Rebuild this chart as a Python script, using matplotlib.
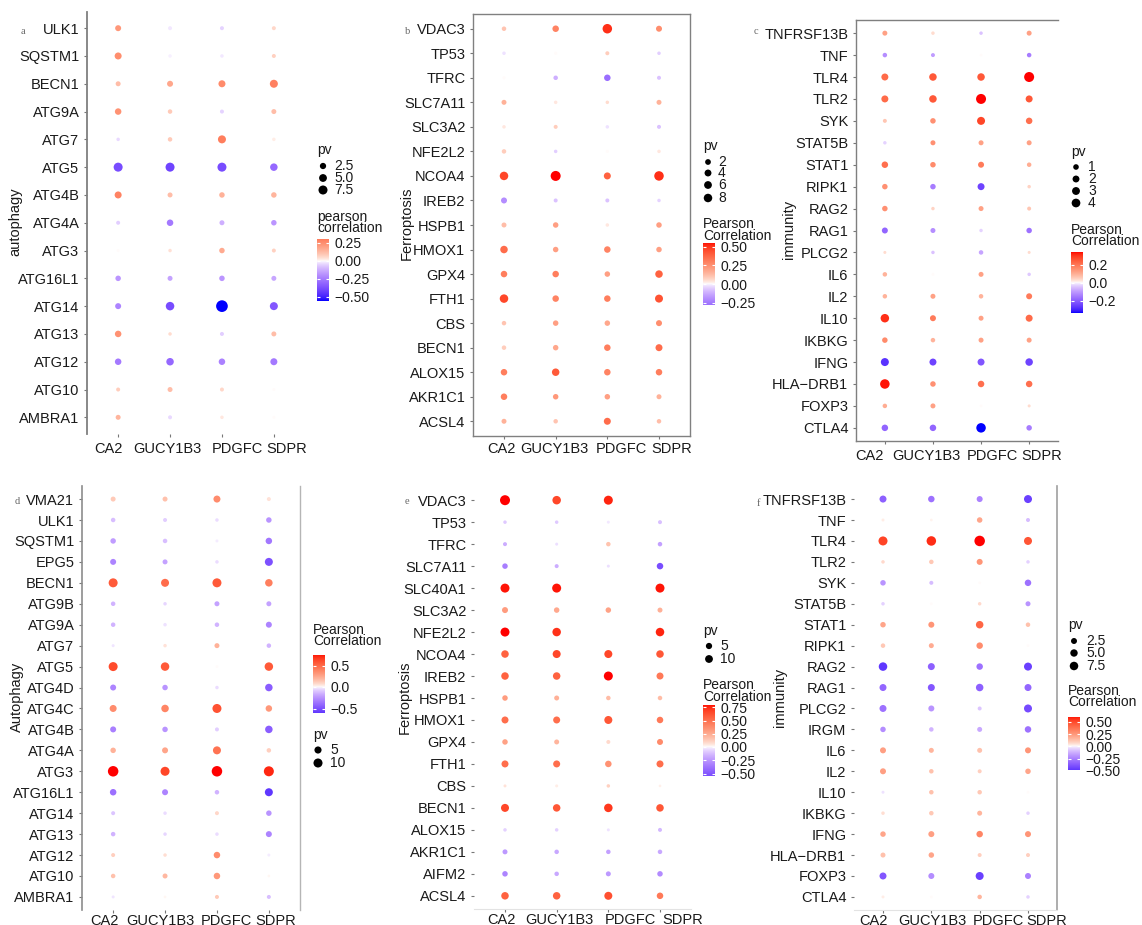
import numpy as np
import matplotlib
matplotlib.use('Agg')
import matplotlib.pyplot as plt
from matplotlib.colors import ListedColormap, Normalize
from matplotlib.transforms import ScaledTranslation

plt.rcParams['font.family'] = ['Liberation Sans', 'DejaVu Sans']

W, H = 1142, 925
nan = np.nan
cols = ['CA2', 'GUCY1B3', 'PDGFC', 'SDPR']

# ---------------- panel a : autophagy ----------------
a_rows = ['ULK1', 'SQSTM1', 'BECN1', 'ATG9A', 'ATG7', 'ATG5', 'ATG4B', 'ATG4A', 'ATG3',
          'ATG16L1', 'ATG14', 'ATG13', 'ATG12', 'ATG10', 'AMBRA1']
a_corr = [[0.22, -0.02, -0.05, 0.06], [0.25, -0.01, -0.02, 0.07], [0.12, 0.18, 0.26, 0.29],
          [0.24, 0.09, -0.05, 0.12], [-0.04, 0.09, 0.30, 0.02], [-0.38, -0.40, -0.38, -0.30],
          [0.28, 0.12, 0.15, 0.14], [-0.06, -0.25, -0.12, -0.18], [0.00, 0.04, 0.17, 0.07],
          [-0.18, -0.15, -0.18, -0.14], [-0.22, -0.38, -0.55, -0.35], [0.24, 0.05, -0.06, 0.12],
          [-0.25, -0.30, -0.23, -0.25], [0.08, 0.12, 0.06, 0.00], [0.14, -0.04, 0.03, 0.00]]
a_pv = [[2.17, 0.4, 0.4, 0.4], [3.6, 0.18, 0.18, 0.4], [1.1, 2.17, 3.6, 5.4],
        [2.84, 0.71, 0.4, 1.1], [0.18, 0.71, 5.4, 0.18], [7.5, 7.5, 7.5, 4.43],
        [3.6, 1.1, 1.6, 1.6], [0.4, 2.84, 1.1, 1.6], [0.04, 0.18, 1.6, 0.4],
        [1.6, 1.1, 1.6, 1.1], [2.17, 6.4, 15.0, 5.4], [2.84, 0.18, 0.4, 1.1],
        [2.84, 4.43, 2.84, 3.6], [0.4, 1.1, 0.4, 0.04], [1.1, 0.4, 0.18, 0.04]]

# ---------------- panel b : ferroptosis ----------------
b_rows = ['VDAC3', 'TP53', 'TFRC', 'SLC7A11', 'SLC3A2', 'NFE2L2', 'NCOA4', 'IREB2', 'HSPB1',
          'HMOX1', 'GPX4', 'FTH1', 'CBS', 'BECN1', 'ALOX15', 'AKR1C1', 'ACSL4']
b_corr = [[0.10, 0.28, 0.50, 0.25], [-0.03, 0.00, 0.08, -0.06], [0.00, -0.12, -0.28, -0.08],
          [0.15, 0.03, 0.05, 0.15], [0.03, 0.08, -0.03, -0.08], [0.08, -0.06, 0.00, 0.03],
          [0.45, 0.55, 0.38, 0.50], [-0.20, -0.08, -0.08, -0.05], [0.12, 0.20, 0.03, 0.20],
          [0.35, 0.20, 0.28, 0.20], [0.30, 0.30, 0.20, 0.38], [0.45, 0.28, 0.30, 0.42],
          [0.10, 0.20, 0.18, 0.25], [0.08, 0.18, 0.30, 0.35], [0.30, 0.40, 0.28, 0.30],
          [0.30, 0.22, 0.20, 0.15], [0.15, 0.10, 0.35, 0.12]]
b_pv = [[0.6, 3.25, 11.2, 2.4], [0.07, 0.01, 0.27, 0.07], [0.01, 0.6, 3.25, 0.27],
        [1.06, 0.07, 0.07, 1.06], [0.07, 0.27, 0.07, 0.27], [0.6, 0.07, 0.01, 0.07],
        [8.0, 13.0, 4.24, 11.2], [2.4, 0.27, 0.27, 0.07], [1.06, 1.66, 0.07, 1.66],
        [5.37, 1.66, 3.25, 1.66], [3.25, 3.25, 1.66, 5.37], [8.0, 3.25, 3.25, 6.6],
        [0.6, 1.66, 1.66, 2.4], [0.6, 1.66, 3.25, 4.24], [3.25, 5.37, 3.25, 3.25],
        [3.25, 1.66, 1.66, 1.06], [1.06, 0.6, 4.24, 0.6]]

# ---------------- panel c : immunity ----------------
c_rows = ['TNFRSF13B', 'TNF', 'TLR4', 'TLR2', 'SYK', 'STAT5B', 'STAT1', 'RIPK1', 'RAG2', 'RAG1',
          'PLCG2', 'IL6', 'IL2', 'IL10', 'IKBKG', 'IFNG', 'HLA\u2212DRB1', 'FOXP3', 'CTLA4']
c_corr = [[0.12, 0.03, -0.05, 0.12], [-0.12, -0.10, 0.00, -0.15], [0.22, 0.25, 0.25, 0.34],
          [0.22, 0.25, 0.34, 0.25], [0.06, 0.15, 0.28, 0.21], [-0.03, 0.15, 0.12, 0.12],
          [0.21, 0.16, 0.19, 0.10], [0.15, -0.15, -0.25, 0.04], [0.15, 0.04, 0.12, 0.06],
          [-0.19, -0.12, -0.03, -0.17], [0.03, -0.05, -0.09, 0.03], [0.09, 0.00, 0.12, -0.04],
          [0.09, 0.12, 0.09, 0.19], [0.31, 0.19, 0.12, 0.22], [0.16, 0.09, 0.12, 0.12],
          [-0.28, -0.25, -0.22, -0.25], [0.33, 0.15, 0.21, 0.21], [0.10, 0.12, 0.00, 0.03],
          [-0.19, -0.19, -0.34, -0.15]]
c_pv = [[0.65, 0.1, 0.1, 0.65], [0.42, 0.23, 0.01, 0.42], [2.1, 2.6, 2.6, 5.85],
        [2.1, 2.6, 5.85, 2.1], [0.23, 0.94, 3.15, 1.66], [0.1, 0.65, 0.65, 0.65],
        [1.66, 0.94, 1.27, 0.42], [0.94, 0.94, 2.1, 0.1], [0.94, 0.1, 0.65, 0.23],
        [1.27, 0.65, 0.1, 0.94], [0.03, 0.1, 0.42, 0.03], [0.42, 0.01, 0.65, 0.1],
        [0.42, 0.65, 0.42, 1.27], [3.74, 1.27, 0.65, 2.1], [0.94, 0.42, 0.65, 0.65],
        [3.15, 2.1, 2.1, 2.6], [5.1, 0.94, 1.66, 1.66], [0.42, 0.65, 0.01, 0.03],
        [1.66, 1.66, 5.1, 0.94]]

# ---------------- panel d : Autophagy ----------------
d_rows = ['VMA21', 'ULK1', 'SQSTM1', 'EPG5', 'BECN1', 'ATG9B', 'ATG9A', 'ATG7', 'ATG5', 'ATG4D',
          'ATG4C', 'ATG4B', 'ATG4A', 'ATG3', 'ATG16L1', 'ATG14', 'ATG13', 'ATG12', 'ATG10', 'AMBRA1']
d_corr = [[0.12, 0.15, 0.35, 0.05], [-0.12, -0.08, -0.05, -0.25], [-0.22, -0.12, -0.02, -0.35],
          [-0.30, -0.20, -0.05, -0.50], [0.55, 0.48, 0.55, 0.40], [-0.15, -0.06, -0.20, -0.20],
          [-0.15, -0.04, -0.15, -0.30], [-0.03, 0.05, 0.20, -0.15], [0.60, 0.55, 0.00, 0.55],
          [-0.30, -0.25, -0.05, -0.45], [0.35, 0.38, 0.58, 0.30], [-0.32, -0.25, -0.08, -0.45],
          [0.20, 0.25, 0.45, 0.10], [0.75, 0.62, 0.75, 0.70], [-0.38, -0.30, -0.15, -0.60],
          [-0.10, -0.05, 0.08, -0.25], [-0.15, -0.06, -0.05, -0.30], [0.10, 0.06, 0.35, -0.02],
          [0.15, 0.18, 0.30, 0.01], [-0.03, 0.01, 0.12, -0.12]]
d_pv = [[1.46, 1.46, 4.75, 0.53], [0.94, 0.53, 0.23, 2.1], [2.1, 0.94, 0.06, 3.75],
        [2.87, 1.46, 0.23, 7.1], [9.9, 7.1, 9.9, 5.86], [0.94, 0.23, 1.46, 1.46],
        [0.94, 0.23, 0.94, 2.87], [0.06, 0.23, 1.46, 0.94], [9.9, 8.4, 0.01, 8.4],
        [2.87, 2.1, 0.23, 5.86], [4.75, 5.86, 9.9, 3.75], [2.87, 2.1, 0.53, 5.86],
        [2.1, 2.87, 7.1, 0.94], [15.0, 9.9, 15.0, 13.2], [3.75, 2.87, 0.94, 7.1],
        [0.53, 0.23, 0.53, 2.1], [0.94, 0.23, 0.23, 2.87], [0.53, 0.23, 3.75, 0.06],
        [0.94, 1.46, 3.75, 0.01], [0.06, 0.01, 0.53, 0.53]]

# ---------------- panel e : Ferroptosis ----------------
e_rows = ['VDAC3', 'TP53', 'TFRC', 'SLC7A11', 'SLC40A1', 'SLC3A2', 'NFE2L2', 'NCOA4', 'IREB2',
          'HSPB1', 'HMOX1', 'GPX4', 'FTH1', 'CBS', 'BECN1', 'ALOX15', 'AKR1C1', 'AIFM2', 'ACSL4']
e_corr = [[0.80, 0.65, 0.75, nan], [-0.10, -0.10, -0.03, -0.12], [-0.18, -0.05, 0.15, -0.22],
          [-0.35, -0.18, -0.05, -0.55], [0.78, 0.78, nan, 0.78], [0.30, 0.25, 0.28, 0.22],
          [0.80, 0.72, nan, 0.75], [0.55, 0.65, 0.65, 0.60], [0.55, 0.55, 0.80, 0.45],
          [0.30, 0.22, 0.18, 0.18], [0.50, 0.50, 0.60, 0.45], [0.28, 0.20, 0.08, 0.38],
          [0.50, 0.50, 0.35, 0.50], [0.05, 0.03, 0.10, 0.02], [0.65, 0.60, 0.70, 0.60],
          [-0.08, -0.08, -0.04, -0.15], [-0.25, -0.20, -0.22, -0.20], [-0.32, -0.20, -0.25, -0.30],
          [0.55, 0.55, 0.62, 0.45]]
e_pv = [[20.0, 12.8, 15.0, nan], [0.36, 0.36, 0.09, 0.8], [0.8, 0.09, 1.42, 1.42],
        [3.2, 0.8, 0.09, 5.7], [15.0, 15.0, nan, 15.0], [4.36, 3.2, 3.2, 2.2],
        [15.0, 12.8, nan, 12.8], [8.9, 10.8, 10.8, 8.9], [8.9, 8.9, 15.0, 7.2],
        [3.2, 2.2, 1.42, 1.42], [7.2, 7.2, 10.8, 5.7], [3.2, 2.2, 0.8, 4.36],
        [7.2, 7.2, 5.7, 7.2], [0.09, 0.09, 0.36, 0.01], [10.8, 8.9, 12.8, 8.9],
        [0.36, 0.36, 0.09, 0.8], [2.2, 1.42, 1.42, 1.42], [3.2, 1.42, 2.2, 3.2],
        [8.9, 8.9, 10.8, 5.7]]

# ---------------- panel f : immunity ----------------
f_rows = ['TNFRSF13B', 'TNF', 'TLR4', 'TLR2', 'SYK', 'STAT5B', 'STAT1', 'RIPK1', 'RAG2', 'RAG1',
          'PLCG2', 'IRGM', 'IL6', 'IL2', 'IL10', 'IKBKG', 'IFNG', 'HLA\u2212DRB1', 'FOXP3', 'CTLA4']
f_corr = [[-0.35, -0.30, -0.25, -0.45], [0.02, 0.01, 0.20, -0.10], [0.50, 0.55, 0.60, 0.45],
          [0.06, 0.10, 0.25, -0.06], [-0.20, -0.10, 0.00, -0.30], [-0.06, 0.00, 0.06, -0.20],
          [0.20, 0.25, 0.40, 0.12], [0.10, 0.18, 0.28, 0.00], [-0.48, -0.35, -0.30, -0.45],
          [-0.33, -0.38, -0.35, -0.33], [-0.30, -0.20, -0.08, -0.42], [-0.22, -0.12, -0.15, -0.30],
          [0.22, 0.15, 0.12, 0.25], [0.22, 0.12, 0.08, 0.20], [-0.03, 0.12, 0.10, 0.00],
          [0.05, 0.10, 0.15, -0.06], [0.20, 0.22, 0.30, 0.25], [0.12, 0.20, 0.08, 0.08],
          [-0.38, -0.22, -0.45, -0.25], [0.02, 0.00, 0.15, -0.06]]
f_pv = [[4.2, 3.3, 2.55, 6.3], [0.05, 0.01, 1.87, 0.47], [8.8, 10.2, 13.3, 6.3],
        [0.21, 0.83, 2.55, 0.21], [1.87, 0.47, 0.01, 3.3], [0.21, 0.01, 0.21, 1.3],
        [1.87, 2.55, 5.2, 0.83], [0.83, 1.3, 3.3, 0.01], [7.5, 4.2, 3.3, 6.3],
        [4.2, 4.2, 5.2, 4.2], [4.2, 2.55, 0.47, 6.3], [1.87, 0.83, 1.3, 3.3],
        [2.55, 1.3, 1.3, 2.55], [2.55, 0.83, 0.47, 1.87], [0.05, 0.83, 0.83, 0.01],
        [0.21, 0.83, 1.3, 0.21], [1.87, 2.55, 3.3, 2.55], [1.3, 1.87, 0.47, 0.47],
        [4.2, 2.55, 6.3, 2.55], [0.05, 0.01, 0.83, 0.21]]


# ---------------- colour scale (Lab interpolation blue-white-red) ----------------
_M = np.array([[0.4124, 0.3576, 0.1805], [0.2126, 0.7152, 0.0722], [0.0193, 0.1192, 0.9505]])
_WP = np.array([0.95047, 1.0, 1.08883])


def _srgb_to_lab(rgb):
    rgb = np.asarray(rgb, float)
    lin = np.where(rgb <= 0.04045, rgb / 12.92, ((rgb + 0.055) / 1.055) ** 2.4)
    xyz = _M @ lin / _WP
    d = 6 / 29
    f = np.where(xyz > d ** 3, np.cbrt(xyz), xyz / (3 * d * d) + 4 / 29)
    return np.array([116 * f[1] - 16, 500 * (f[0] - f[1]), 200 * (f[1] - f[2])])


def _lab_to_srgb(lab):
    L, a, b = lab
    fy = (L + 16) / 116
    f = np.array([fy + a / 500, fy, fy - b / 200])
    d = 6 / 29
    xyz = np.where(f > d, f ** 3, 3 * d * d * (f - 4 / 29)) * _WP
    lin = np.clip(np.linalg.inv(_M) @ xyz, 0, 1)
    return np.clip(np.where(lin <= 0.0031308, 12.92 * lin, 1.055 * lin ** (1 / 2.4) - 0.055), 0, 1)


_blue, _white, _red = (_srgb_to_lab(c) for c in ([0, 0, 1], [1, 1, 1], [1, 0, 0]))
_cols = []
for t in np.linspace(0, 1, 256):
    frac = (abs(t - 0.5) / 0.5) ** 0.7
    end = _blue if t < 0.5 else _red
    _cols.append(_lab_to_srgb(_white + (end - _white) * frac))
cmap = ListedColormap(_cols)

fig = plt.figure(figsize=(W / 100, H / 100), dpi=100)
ov = fig.add_axes([0, 0, 1, 1], zorder=10)
ov.set_xlim(0, W)
ov.set_ylim(H, 0)
ov.axis('off')
ov.patch.set_alpha(0)


def px_rect(l, r, t, b):
    return [l / W, 1 - b / H, (r - l) / W, (b - t) / H]


def diam(pv, hi, dmin, dmax):
    return dmin + (dmax - dmin) * np.sqrt(np.clip(np.asarray(pv, float) / hi, 0, 1))


TXT = '#1a1a1a'


def panel(rows, corr, pv, rect, spines, ylabel, ylab_xy, letter, letter_xy,
          srange, leg, xoff, xpad):
    corr = np.array(corr, float)
    pv = np.array(pv, float)
    n = len(rows)
    ax = fig.add_axes(px_rect(*rect))
    vmin, vmax = np.nanmin(corr), np.nanmax(corr)
    M = max(abs(vmin), abs(vmax))
    norm = Normalize(-M, M)
    hi = np.nanmax(pv)
    dmin, dmax = srange
    ii, jj = np.meshgrid(np.arange(n), np.arange(4), indexing='ij')
    ok = ~np.isnan(corr)
    xs = jj[ok]
    ys = (n - 1 - ii)[ok]
    dd = diam(pv[ok], hi, dmin, dmax)
    ax.scatter(xs, ys, s=(dd * 0.72) ** 2, c=cmap(norm(corr[ok])), linewidths=0, zorder=3)
    ax.set_xlim(-0.6, 3.6)
    ax.set_ylim(-0.6, n - 1 + 0.6)
    ax.set_xticks(range(4))
    ax.set_xticklabels(cols)
    ax.set_yticks(range(n))
    ax.set_yticklabels(rows[::-1])
    ax.tick_params(length=2.5, width=0.8, color='#777777', pad=3, labelsize=10.5,
                   labelcolor=TXT)
    ax.tick_params(axis='x', pad=xpad)
    for lab, dx in zip(ax.get_xticklabels(), xoff):
        lab.set_transform(lab.get_transform() + ScaledTranslation(dx / 100, 0, fig.dpi_scale_trans))
    for side in ['left', 'right', 'top', 'bottom']:
        if side in spines:
            c, lw = spines[side]
            ax.spines[side].set_color(c)
            ax.spines[side].set_linewidth(lw)
        else:
            ax.spines[side].set_visible(False)
    ax.set_facecolor('none')
    ov.text(ylab_xy[0], ylab_xy[1], ylabel, rotation=90, ha='center', va='center',
            fontsize=10.5, color=TXT)
    ov.text(letter_xy[0], letter_xy[1], letter, ha='center', va='center', fontsize=7.5,
            color='#666666', family=['Liberation Serif', 'DejaVu Serif'])

    # size legend
    (tx, ty), dx, dys, labx, vals, labs = leg['pv']
    ov.text(tx, ty, 'pv', ha='left', va='center', fontsize=10, color=TXT)
    ov.scatter([dx] * len(vals), dys, s=(diam(vals, hi, dmin, dmax) * 0.72) ** 2,
               c='black', linewidths=0)
    for yv, lab in zip(dys, labs):
        ov.text(labx, yv, lab, ha='left', va='center', fontsize=10, color=TXT)
    # colour legend
    (cx, t1, t2), title, cbx, zero, ppu, ticks, tlabs = leg['cb']
    ov.text(cx, t1, title[0], ha='left', va='center', fontsize=10, color=TXT)
    ov.text(cx, t2, title[1], ha='left', va='center', fontsize=10, color=TXT)
    top = zero - vmax * ppu
    bot = zero - vmin * ppu
    cax = fig.add_axes(px_rect(cbx, cbx + 12, top, bot))
    grad = np.linspace(vmin, vmax, 256).reshape(-1, 1)
    cax.imshow(grad, aspect='auto', origin='lower', extent=[0, 1, vmin, vmax],
               cmap=cmap, norm=norm, interpolation='bilinear')
    cax.set_xlim(0, 1)
    cax.set_ylim(vmin, vmax)
    cax.set_xticks([])
    cax.set_yticks(ticks)
    cax.set_yticklabels(tlabs)
    cax.tick_params(axis='y', direction='in', length=2.5, width=0.8, color='white',
                    left=True, right=True, labelleft=False, labelright=True, pad=4,
                    labelsize=10, labelcolor=TXT)
    for s in cax.spines.values():
        s.set_visible(False)


MINUS = '\u2212'

panel(a_rows, a_corr, a_pv, (87, 305, 11.5, 434),
      {'left': ('#7f7f7f', 1.3)}, 'autophagy', (15, 222), 'a', (23, 32), (2.5, 11.7),
      {'pv': ((317, 150), 323, [166, 178, 190], 334, [2.5, 5.0, 7.5], ['2.5', '5.0', '7.5']),
       'cb': ((317, 217, 228), ('pearson', 'correlation'), 317, 261, 72,
              [0.25, 0.0, -0.25, -0.5], ['0.25', '0.00', MINUS + '0.25', MINUS + '0.50'])},
      [-9.5, -2.5, 15.5, 13], 3)

panel(b_rows, b_corr, b_pv, (473, 690, 14, 436),
      {s: ('#808080', 1.0) for s in ['left', 'right', 'top', 'bottom']}, 'Ferroptosis',
      (407, 223), 'b', (408, 32), (3, 10),
      {'pv': ((703, 146), 708, [162, 173, 185, 198], 718, [2, 4, 6, 8], ['2', '4', '6', '8']),
       'cb': ((703, 224, 236), ('Pearson', 'Correlation'), 703, 284, 74.7,
              [0.5, 0.25, 0.0, -0.25], ['0.50', '0.25', '0.00', MINUS + '0.25'])},
      [-3, -1.5, 14.5, 13], 2)

panel(c_rows, c_corr, c_pv, (856, 1058, 20, 441),
      {s: ('#7f7f7f', 1.0) for s in ['left', 'top', 'bottom']}, 'immunity',
      (789, 229), 'c', (756, 32), (2.5, 10),
      {'pv': ((1071, 152), 1076, [167, 179, 191, 203], 1088, [1, 2, 3, 4], ['1', '2', '3', '4']),
       'cb': ((1071, 230, 241), ('Pearson', 'Correlation'), 1071, 282.7, 89,
              [0.2, 0.0, -0.2], ['0.2', '0.0', MINUS + '0.2'])},
      [-15.5, -6.5, 11, 13], 3.5)

panel(d_rows, d_corr, d_pv, (82, 300, 486.5, 909.5),
      {'left': ('#8c8c8c', 1.2), 'right': ('#b5b5b5', 1.0)}, 'Autophagy',
      (17, 697), 'd', (17, 501), (2.5, 10.5),
      {'pv': ((313, 735), 318, [750, 763], 330, [5, 10], ['5', '10']),
       'cb': ((313, 630, 641), ('Pearson', 'Correlation'), 313, 687, 43,
              [0.5, 0.0, -0.5], ['0.5', '0.0', MINUS + '0.5'])},
      [-9, -5, 9.5, 6.5], 0.5)

panel(e_rows, e_corr, e_pv, (474, 691, 487, 909),
      {'bottom': ('#e3e3e3', 0.8)}, 'Ferroptosis', (405, 697), 'e', (407, 502), (2.5, 10),
      {'pv': ((703, 631), 709, [646, 659], 720, [5, 10], ['5', '10']),
       'cb': ((703, 685, 697), ('Pearson', 'Correlation'), 703, 747, 53,
              [0.75, 0.5, 0.25, 0.0, -0.25, -0.5],
              ['0.75', '0.50', '0.25', '0.00', MINUS + '0.25', MINUS + '0.50'])},
      [-3.5, 2.5, 22, 22.5], 0.5)

panel(f_rows, f_corr, f_pv, (854, 1057, 486.5, 909.5),
      {'right': ('#a0a0a0', 1.2), 'bottom': ('#e3e3e3', 0.8)}, 'immunity',
      (780, 697), 'f', (758, 503), (2.5, 10.5),
      {'pv': ((1068, 625), 1074, [641, 653, 666], 1086, [2.5, 5.0, 7.5], ['2.5', '5.0', '7.5']),
       'cb': ((1068, 691, 702), ('Pearson', 'Correlation'), 1068, 747, 50,
              [0.5, 0.25, 0.0, -0.25, -0.5],
              ['0.50', '0.25', '0.00', MINUS + '0.25', MINUS + '0.50'])},
      [-10, 1, 18.5, 19], 0.5)

fig.savefig('out.png', dpi=100, facecolor='white')
